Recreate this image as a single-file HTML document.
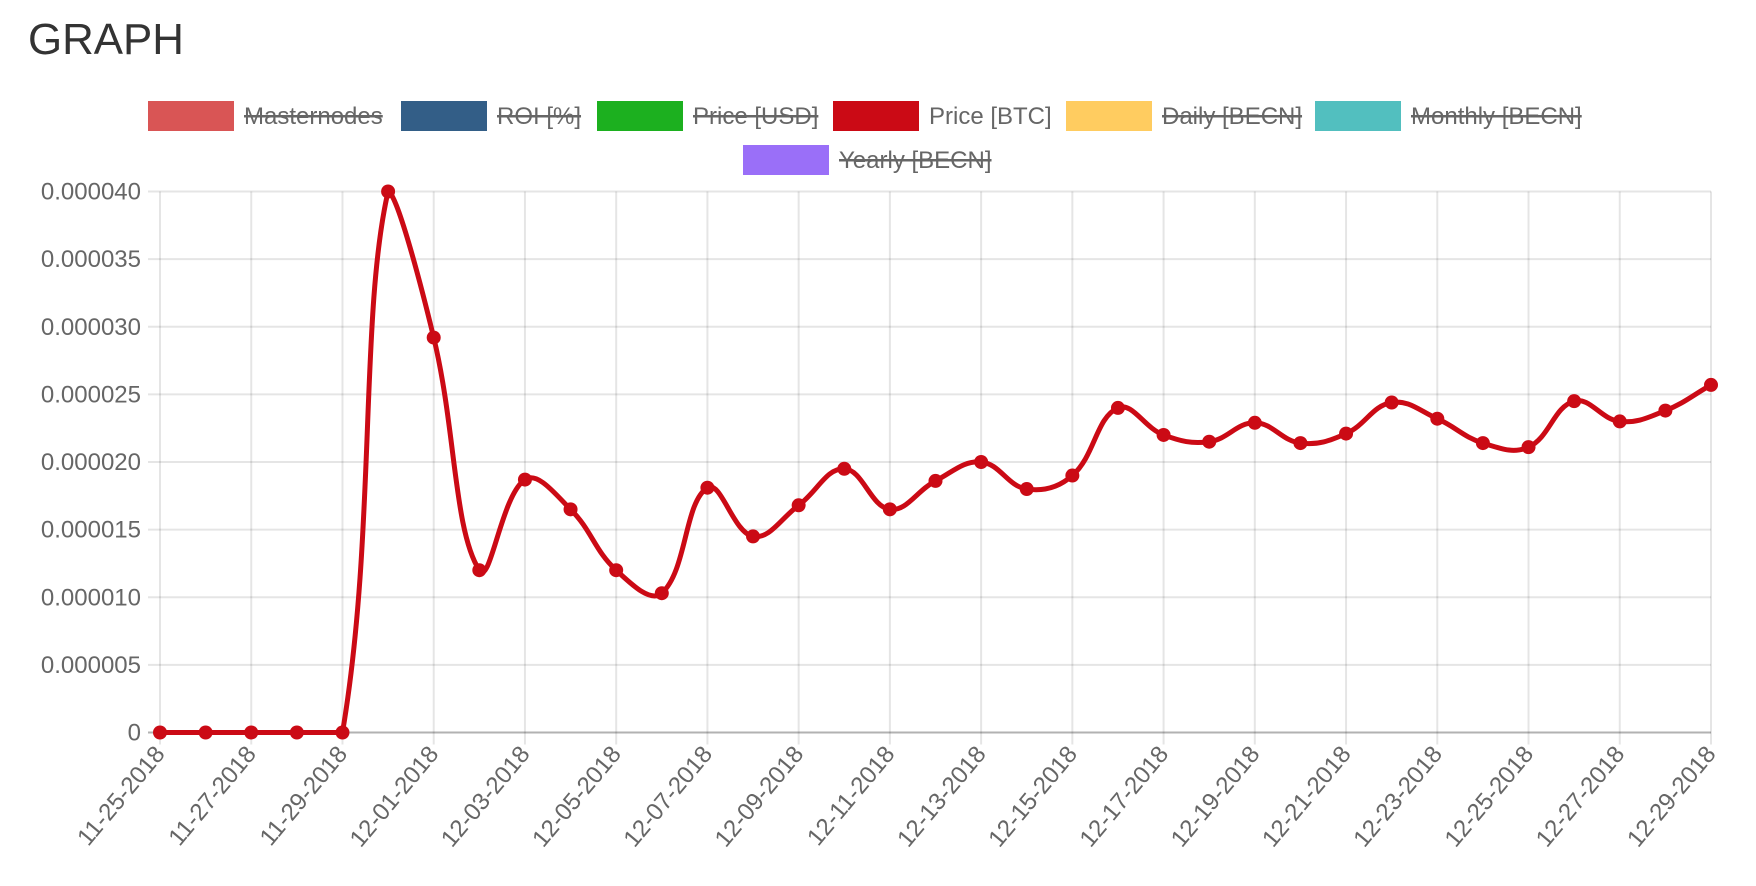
<!DOCTYPE html>
<html><head><meta charset="utf-8"><style>
body{margin:0;background:#fff;width:1756px;height:886px;overflow:hidden;font-family:"Liberation Sans",sans-serif}
svg{position:absolute;left:0;top:0}
</style></head><body>
<svg id="c" width="1756" height="886"></svg>
<script>
const labels=["11-25-2018","11-26-2018","11-27-2018","11-28-2018","11-29-2018","11-30-2018","12-01-2018","12-02-2018","12-03-2018","12-04-2018","12-05-2018","12-06-2018","12-07-2018","12-08-2018","12-09-2018","12-10-2018","12-11-2018","12-12-2018","12-13-2018","12-14-2018","12-15-2018","12-16-2018","12-17-2018","12-18-2018","12-19-2018","12-20-2018","12-21-2018","12-22-2018","12-23-2018","12-24-2018","12-25-2018","12-26-2018","12-27-2018","12-28-2018","12-29-2018"];
const priceBTC=[0,0,0,0,0,0.000040,0.0000292,0.000012,0.0000187,0.0000165,0.000012,0.0000103,0.0000181,0.0000145,0.0000168,0.0000195,0.0000165,0.0000186,0.0000200,0.0000180,0.0000190,0.0000240,0.0000220,0.0000215,0.0000229,0.0000214,0.0000221,0.0000244,0.0000232,0.0000214,0.0000211,0.0000245,0.0000230,0.0000238,0.0000257];
const yTicks=[0,0.000005,0.00001,0.000015,0.00002,0.000025,0.00003,0.000035,0.00004];
const yTickLabels=["0","0.000005","0.000010","0.000015","0.000020","0.000025","0.000030","0.000035","0.000040"];
const legendNames=["Masternodes","ROI [%]","Price [USD]","Price [BTC]","Daily [BECN]","Monthly [BECN]","Yearly [BECN]"];
const legendColors=["#d95555","#335e87","#1cb01f","#cb0a15","#ffcc60","#52bfbf","#9a6ff8"];
const legendHidden=[true,true,true,false,true,true,true];

const NS="http://www.w3.org/2000/svg",svg=document.getElementById('c');
const X0=160,X1=1711,Y0=732.5,Y1=191.5,YMAX=0.00004;
const xs=i=>X0+(X1-X0)*i/(labels.length-1);
const ys=v=>Y0-(Y0-Y1)*v/YMAX;
function mk(t,a,p){const e=document.createElementNS(NS,t);for(const k in a)e.setAttribute(k,a[k]);(p||svg).appendChild(e);return e;}

let t=mk('text',{x:28,y:54,'font-size':44,fill:'#333',textLength:156,lengthAdjust:'spacingAndGlyphs'});


t.textContent='GRAPH';

const lx=[148,401,597,833,1066,1315,743],ly=[101,101,101,101,101,101,145];
legendNames.forEach((n,i)=>{
 const g=mk('g',{});
 
 
 mk('rect',{x:lx[i],y:ly[i],width:86,height:30,fill:legendColors[i]},g);
 const tx=mk('text',{x:lx[i]+96,y:ly[i]+23,'font-size':24,fill:'#666'},g);
 tx.textContent=n;
 if(legendHidden[i]){const w=tx.getComputedTextLength();mk('rect',{x:lx[i]+96,y:ly[i]+14,width:w,height:2.5,fill:'#666'},g);}
});

const grid=mk('g',{});


yTicks.forEach((v,i)=>{
 const y=ys(v);
 mk('line',{x1:X0-12,x2:X1,y1:y,y2:y,stroke:v===0?'rgba(0,0,0,0.3)':'rgba(0,0,0,0.1)','stroke-width':2},grid);
 const tl=mk('text',{x:X0-19,y:y+8,'font-size':24,fill:'#666','text-anchor':'end'});
 
 
 tl.textContent=yTickLabels[i];
});
labels.forEach((l,i)=>{
 if(i%2)return;
 const x=xs(i);
 mk('line',{x1:x,x2:x,y1:Y1,y2:Y0+12,stroke:'rgba(0,0,0,0.1)','stroke-width':2},grid);
 const tl=mk('text',{x:x+6,y:Y0+22,'font-size':24,fill:'#666','text-anchor':'end',transform:`rotate(-50 ${x+6} ${Y0+22})`});
 
 
 tl.textContent=l;
});

const pts=priceBTC.map((v,i)=>({x:xs(i),y:ys(v)}));
const T=0.4;const cps=pts.map((p,i)=>{
 const a=pts[Math.max(0,i-1)],c=pts[Math.min(pts.length-1,i+1)];
 const d01=Math.hypot(p.x-a.x,p.y-a.y),d12=Math.hypot(c.x-p.x,c.y-p.y);
 let fa=d01/(d01+d12)||0,fb=d12/(d01+d12)||0;fa*=T;fb*=T;
 return {px:p.x-fa*(c.x-a.x),py:p.y-fa*(c.y-a.y),nx:p.x+fb*(c.x-a.x),ny:p.y+fb*(c.y-a.y)};
});
let d=`M${pts[0].x},${pts[0].y}`;
for(let i=1;i<pts.length;i++){
 const ny=Math.min(Y0,Math.max(Y1,cps[i-1].ny)),py=Math.min(Y0,Math.max(Y1,cps[i].py));
 d+=` C${cps[i-1].nx},${ny} ${cps[i].px},${py} ${pts[i].x},${pts[i].y}`;
}
const line=mk('path',{d,fill:'none',stroke:'#cb0a15','stroke-width':5,'stroke-linejoin':'round'});


pts.forEach(p=>{
 const c=mk('circle',{cx:p.x,cy:p.y,r:7,fill:'#cb0a15'});
 
 
});
</script>
</body></html>
